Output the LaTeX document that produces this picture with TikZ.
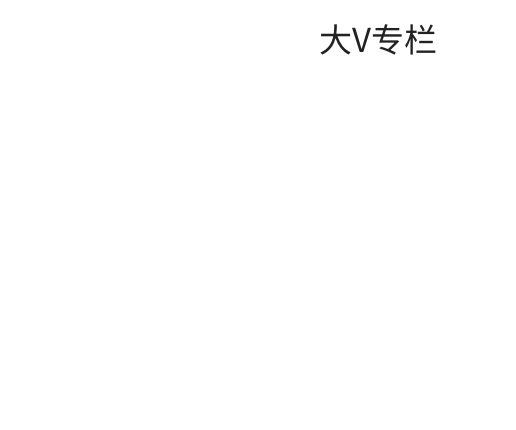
\documentclass[tikz,border=0pt]{standalone}
\usepackage{fontspec}
\newfontfamily\cjk{Noto Sans CJK SC}
\definecolor{txt}{HTML}{222222}
\begin{document}
\begin{tikzpicture}[x=1pt,y=1pt]
\useasboundingbox[fill=white] (0,0) rectangle (516,429);
\node[text=txt,font=\cjk\fontsize{33}{37}\selectfont,inner sep=0pt] (title) at (378.5,389.5) {大V专栏};
\end{tikzpicture}
\end{document}
